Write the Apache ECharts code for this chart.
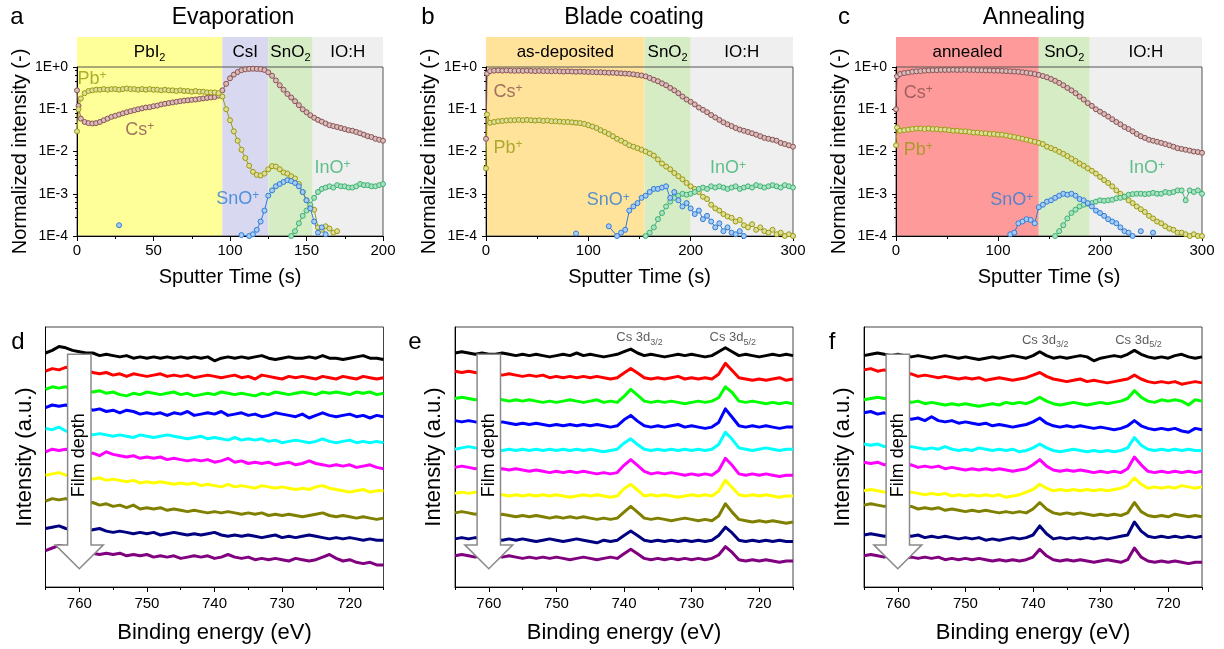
<!DOCTYPE html>
<html><head><meta charset="utf-8">
<script src="https://cdn.jsdelivr.net/npm/echarts@6.0.0/dist/echarts.min.js"></script>
<style>html,body{margin:0;padding:0;background:#fff}#c{width:1224px;height:649px}</style>
</head><body><div id="c"></div>
<script>
// ================= DATA =================
// ---- ToF-SIMS depth profiles (a: evaporation) ----
const timeA = [0,1,2.5,5,7.5,10,12.5,15,17.5,20,22.5,25,27.5,30,32.5,35,37.5,40,42.5,45,47.5,50,52.5,55,57.5,60,62.5,65,67.5,70,72.5,75,77.5,80,82.5,85,87.5,90,92.5,95,97.5,100,102.5,105,107.5,110,112.5,115,117.5,120,122.5,125,127.5,130,132.5,135,137.5,140,142.5,145,147.5,150,152.5,155,157.5,160,162.5,165,167.5,170,172.5,175,177.5,180,182.5,185,187.5,190,192.5,195,197.5,200];
const pbA = [0.03,0.1,0.18,0.24,0.27,0.28,0.29,0.29,0.30,0.29,0.30,0.30,0.29,0.30,0.31,0.30,0.30,0.29,0.30,0.29,0.30,0.29,0.29,0.28,0.29,0.28,0.28,0.27,0.28,0.27,0.27,0.26,0.27,0.26,0.26,0.25,0.25,0.25,0.24,0.2,0.1,0.055,0.03,0.018,0.011,0.007,0.0046,0.0033,0.0028,0.0027,0.003,0.0038,0.0045,0.0044,0.0038,0.0032,0.003,0.0026,0.0023,0.0017,0.0011,0.0007,0.0005,0.00042,0.00016,0.00014,0.00017,0.00015,0.00012,0.00013,null,null,null,null,null,null,null,null,null,null,null,null];
const csA = [0.28,0.12,0.06,0.05,0.047,0.046,0.047,0.05,0.055,0.06,0.066,0.07,0.075,0.08,0.085,0.09,0.095,0.1,0.105,0.11,0.112,0.118,0.122,0.13,0.135,0.14,0.145,0.15,0.155,0.16,0.163,0.167,0.17,0.175,0.18,0.185,0.19,0.195,0.21,0.28,0.4,0.54,0.66,0.76,0.84,0.88,0.9,0.91,0.9,0.89,0.85,0.75,0.62,0.48,0.37,0.29,0.23,0.19,0.155,0.125,0.1,0.085,0.072,0.063,0.056,0.051,0.046,0.042,0.04,0.038,0.036,0.034,0.032,0.031,0.029,0.027,0.025,0.023,0.022,0.02,0.019,0.018];
const snoTimeA = [27.5,70,107.5,112.5,115,117.5,120,122.5,125,127.5,130,132.5,135,137.5,140,142.5,145,147.5,150,152.5,155,157.5,160,162.5];
const snoA = [0.00018,null,0.000105,0.0001,0.00011,0.00014,0.00022,0.0004,0.0009,0.0012,0.0015,0.0017,0.0019,0.0021,0.002,0.0018,0.0015,0.0011,0.0007,0.00045,0.00022,0.00012,0.00016,0.00011];
const inoTimeA = [140,142.5,145,147.5,150,152.5,155,157.5,160,162.5,165,167.5,170,172.5,175,177.5,180,182.5,185,187.5,190,192.5,195,197.5,200];
const inoA = [0.0001,0.00013,0.0002,0.0003,0.0004,0.00055,0.0008,0.0011,0.0013,0.0014,0.0015,0.0014,0.0016,0.0015,0.0015,0.0014,0.0014,0.0015,0.0017,0.0016,0.0016,0.0015,0.0015,0.0016,0.0017];

// ---- (b: blade coating) and (c: annealing) share the time grid ----
const timeBC = [0,1,4,8,12,16,20,24,28,32,36,40,44,48,52,56,60,64,68,72,76,80,84,88,92,96,100,104,108,112,116,120,124,128,132,136,140,144,148,152,156,160,164,168,172,176,180,184,188,192,196,200,204,208,212,216,220,224,228,232,236,240,244,248,252,256,260,264,268,272,276,280,284,288,292,296,300];
const csB = [0.02,0.7,0.8,0.82,0.83,0.82,0.83,0.82,0.81,0.82,0.81,0.82,0.81,0.8,0.81,0.8,0.8,0.79,0.8,0.79,0.78,0.79,0.78,0.77,0.78,0.77,0.76,0.76,0.75,0.75,0.74,0.73,0.73,0.72,0.71,0.7,0.69,0.67,0.65,0.63,0.6,0.55,0.5,0.46,0.41,0.37,0.32,0.28,0.24,0.2,0.17,0.15,0.13,0.11,0.097,0.085,0.073,0.064,0.056,0.049,0.044,0.04,0.036,0.033,0.031,0.029,0.027,0.025,0.023,0.021,0.02,0.019,0.018,0.016,0.015,0.014,0.013];
const pbB = [0.004,0.075,0.048,0.05,0.052,0.053,0.054,0.055,0.055,0.056,0.055,0.056,0.055,0.054,0.055,0.053,0.054,0.052,0.052,0.051,0.05,0.05,0.049,0.048,0.047,0.045,0.042,0.039,0.036,0.032,0.029,0.026,0.023,0.02,0.018,0.016,0.014,0.013,0.012,0.011,0.01,0.009,0.008,0.0065,0.0052,0.0044,0.0038,0.0031,0.0026,0.0022,0.0018,0.0015,0.0013,0.0011,0.00085,0.00075,0.00055,0.00045,0.0004,0.00033,0.00029,0.00027,0.00022,0.00024,0.00018,0.00016,0.00019,0.00014,0.00016,0.00013,0.00012,0.00014,0.00011,0.00012,0.0001,0.00011,0.0001];
const snoTimeB = [88,100,120,128,132,136,140,144,148,152,156,160,164,168,172,176,180,184,188,192,196,200,204,208,212,216,220,224,228,232,236,240,244,248,252];
const snoB = [0.000115,null,0.00017,0.0001,0.00012,0.00014,0.0004,0.0005,0.0006,0.0008,0.0009,0.0011,0.0013,0.0013,0.0014,0.0015,0.0008,0.0011,0.0007,0.0005,0.0006,0.00045,0.00033,0.0004,0.00025,0.0003,0.00022,0.00016,0.0002,0.00013,0.00016,0.00012,0.00011,0.00013,0.0001];
const inoTimeBC = [156,160,164,168,172,176,180,184,188,192,196,200,204,208,212,216,220,224,228,232,236,240,244,248,252,256,260,264,268,272,276,280,284,288,292,296,300];
const inoB = [0.0001,0.00012,0.00016,0.00025,0.00035,0.0005,0.00065,0.0008,0.0009,0.001,0.00095,0.001,0.0011,0.0013,0.0014,0.0013,0.0015,0.0014,0.0015,0.0014,0.0013,0.0014,0.0015,0.0013,0.0014,0.0015,0.0014,0.0016,0.0015,0.0014,0.0015,0.0016,0.0015,0.0014,0.0016,0.0015,0.0014];
const csC = [0.1,0.6,0.68,0.72,0.74,0.77,0.79,0.8,0.82,0.83,0.84,0.84,0.85,0.85,0.85,0.86,0.85,0.85,0.86,0.85,0.85,0.84,0.84,0.83,0.83,0.82,0.82,0.81,0.8,0.79,0.78,0.77,0.75,0.73,0.71,0.68,0.65,0.61,0.57,0.52,0.47,0.42,0.37,0.32,0.28,0.24,0.2,0.17,0.14,0.12,0.1,0.088,0.077,0.067,0.058,0.05,0.044,0.038,0.034,0.03,0.026,0.023,0.021,0.019,0.018,0.017,0.016,0.015,0.014,0.013,0.012,0.0115,0.011,0.0105,0.01,0.0097,0.0093];
const pbC = [0.014,0.037,0.031,0.032,0.033,0.034,0.035,0.035,0.034,0.035,0.034,0.034,0.033,0.033,0.032,0.031,0.031,0.03,0.03,0.029,0.028,0.028,0.027,0.027,0.026,0.026,0.025,0.025,0.024,0.023,0.022,0.021,0.02,0.019,0.018,0.017,0.016,0.015,0.013,0.012,0.011,0.0098,0.0088,0.0078,0.0068,0.006,0.0052,0.0046,0.004,0.0035,0.003,0.0025,0.0021,0.0018,0.0015,0.0012,0.001,0.00085,0.0007,0.0006,0.0005,0.00043,0.00037,0.0003,0.00026,0.00022,0.0002,0.00017,0.00015,0.00014,0.00012,0.00012,0.00011,0.0001,0.00011,0.0001,0.0001];
const snoTimeC = [112,116,120,124,128,132,136,140,144,148,152,156,160,164,168,172,176,180,184,188,192,196,200,204,208,212,216,220,224,228,232,236,240,244,248,252];
const snoC = [0.00011,0.00012,0.0002,0.00022,0.00025,0.00024,0.0002,0.00048,0.00055,0.00065,0.0007,0.0008,0.0009,0.001,0.00095,0.001,0.0009,0.00075,0.0007,0.0006,0.0005,0.0004,0.00035,0.0003,0.00025,0.00022,0.0002,0.00016,0.00013,0.00012,0.0001,null,0.00013,null,null,0.00012];
const inoC = [0.0001,0.00013,0.00018,0.00026,0.00035,0.00042,0.0005,0.00055,0.00058,0.0006,0.00065,0.0007,0.00068,0.0007,0.00072,0.00078,0.0008,0.00085,0.00095,0.00098,0.001,0.001,0.00098,0.001,0.00105,0.001,0.001,0.0011,0.00105,0.0011,0.0012,0.0012,0.0007,0.0012,0.0011,0.0012,0.001];

// layer bands: [start s, end s, label, subscript]
const bandsA = [[0,95,'PbI','2'],[95,125,'CsI',''],[125,154,'SnO','2'],[154,200,'IO:H','']];
const bandsB = [[0,155,'as-deposited',''],[155,200,'SnO','2'],[200,300,'IO:H','']];
const bandsC = [[0,140,'annealed',''],[140,190,'SnO','2'],[190,300,'IO:H','']];
// ion labels: [ion, time, intensity]
const ionLabelsA = [['Pb',9.8,0.52],['Cs',41,0.032],['SnO',105,0.00076],['InO',167,0.0041]];
const ionLabelsB = [['Cs',21.5,0.26],['Pb',21.5,0.012],['SnO',119.5,0.0007],['InO',236.5,0.004]];
const ionLabelsC = [['Cs',21.9,0.24],['Pb',21.9,0.011],['SnO',113.5,0.0007],['InO',246,0.004]];
const xMaxTop = [200,300,300];
const xStepTop = [50,100,100];
const panelTitles = ['Evaporation','Blade coating','Annealing'];
const panelLetters = ['a','b','c','d','e','f'];

// ---- XPS Cs 3d spectra (stacked, top = surface) ----
const energy = [765,764,763,762,761,760,759,758,757,756,755,754,753,752,751,750,749,748,747,746,745,744,743,742,741,740,739,738,737,736,735,734,733,732,731,730,729,728,727,726,725,724,723,722,721,720,719,718,717,716,715];
const xpsD = [
[90,91,92.5,92,91,90.5,90,90,89,89.5,89,88.5,89,88,88.5,88,88.5,88,88.5,88,88.5,88,88.5,88,88.5,87,88,88.5,88,88.5,88,88.5,89,88,87.5,88,88.5,88,88,88.5,88,89,88,88,87.5,88,88.5,89,88,88,87.5],
[83,84,83.5,84.5,84,83,83.5,82.5,82,82.5,81.5,82,81,82,81.5,81,81.5,82,81,81.5,81,81.5,80.5,81,81.5,81,80.5,81,81.5,80.5,81,80,81.5,81,80.5,80,81,80.5,81,80.5,80,81,80.5,80,81,80.5,80,81,80.5,80,80.5],
[76,77,76.5,77,76,76.5,75.5,75,75.5,74.5,75,74,73.5,74.5,74,75,74.5,74,74.5,75,74,74.5,73.5,74,74.5,74,75,74.5,74,74.5,74,73.5,74.5,74,75,74.5,74,74.5,75,74.5,74,75,74.5,75,74.5,74,75,74.5,75,74,74.5],
[69,70,69.5,70,69,68.5,69,68,68.5,67.5,68,67,68,67.5,66.5,67,66.5,67,66,67,66.5,67.5,66,66.5,67,66.5,67.5,66,66.5,67,66,66.5,65.5,66,67,66.5,66,65.5,66.5,65,66,67,66,65.5,66,66.5,65.5,66,65,66,65.5],
[61,60.5,61.5,60,59.5,59,59.5,58.5,59,58.5,58,58.5,58,57.5,58.5,58,57.5,58,58.5,58,57.5,57,57.5,58,57,57.5,57,56.5,57.5,56.5,57,56.5,57,56,56.5,55.5,56,56.5,56,55.5,56,57,56,55.5,56,56.5,55.5,56,55.5,56,55.5],
[52,53,52.5,53,52,51.5,51,51.5,50.5,52,51,50.5,50,50.5,49.5,50,49.5,50,49,49.5,49,48.5,49,48.5,49,48,48.5,49.5,48,48.5,47.5,48,47.5,48,47,47.5,48,47,47.5,48.5,47.5,47,46.5,47,46.5,47,46,46.5,47,46,45.5],
[43,43.5,44,43,42.5,42,42.5,41.5,42,41,41.5,41,40.5,41,40,40.5,40,40.5,40,39.5,40,39.5,40,39,39.5,39,38.5,39.5,38.5,39,38.5,38,39,38.5,38,38.5,38,37.5,38,37.5,38.5,39,38,37.5,37,36.5,37,37.5,36.5,37,37],
[33,34,33.5,34,33,32.5,32,32.5,31.5,32,31,31.5,30.5,31.5,30,30.5,30,30.5,29.5,30,29.5,29,29.5,29,28.5,29,28.5,29,28.5,28,28.5,28,28.5,27.5,28,27.5,28,27.5,27,27.5,28,28.5,27.5,27,27.5,27,26.5,27,26.5,26,26.5],
[22.5,23,23.5,22.5,22,22.5,21.5,22,22.5,21.5,21,21.5,21,20.5,21,20.5,21,20,20.5,21,20.5,20,20.5,20,20.5,21,20,19.5,20,19.5,20,19.5,19,19.5,20,19,19.5,19,19.5,20,19.5,19,18.5,19,18.5,19,18.5,18,18.5,18,18],
[14,15,16,15.5,15,14,13.5,13,12.5,13,12.5,13,12,12.5,12,12.5,11.5,12,11.5,12,11,11.5,12,11.5,12,11,11.5,12.5,11.5,11,11.5,10.5,11,10.5,11,10.5,10,11,10.5,10,10.5,11.5,12.5,11,10,10.5,9.5,9,9.5,8.5,8.5]
];
const xpsE = [
[90,90.5,90,89.5,90, 89.5,89.5,90,89.5,89, 89.5,89,89.5,89,88.5, 89,89.5,89,90,89, 89.5,89,88.5,89,89.5, 90.5,91.5,90,89,89.5, 89,88.5,89,89.5,89, 89.5,89,88.5,89,90.5, 92,90.5,89,89.5,89, 88.5,89,89.5,89,89.5, 89],
[83,82.5,83,82.5,82, 82.5,82,81.5,82,81.5, 81,81.5,81,81.5,80.5, 81,80.5,81,80.5,81, 80.5,81,80.5,80,80.5, 82.3,84,82.3,80.5,80, 80.5,80,80.5,81,80, 80.5,80,80.5,80,81.8, 86,83.3,80.5,80,79.5, 80,79.5,80,80.5,79.5, 80],
[72.5,73,72.5,72,72.5, 72,72.5,72,71.5,72, 71.5,72,71.5,71,71.5, 71,71.5,72,71.5,71, 71.5,72,71,71.5,71, 73.3,76,73.8,71.5,71, 71.5,71,71.5,71,70.5, 71,71.5,71,71.5,72.8, 77,74.8,71.5,71,71.5, 71,70.5,71,70.5,71, 70.5],
[64,63.5,64,63.5,63, 63.5,63,63.5,63,62.5, 63,62.5,63,62.5,62, 62.5,62,62.5,62,62.5, 62,62.5,62,61.5,62, 64.3,66,63.8,62,61.5, 62,61.5,62,62.5,61.5, 62,61.5,61,61.5,63.3, 68.5,65.3,62,61.5,62, 61.5,62,61.5,61,61.5, 61.5],
[53,53.5,54,53.5,53, 53.5,53,52.5,53,52.5, 53,52.5,53,52.5,53, 52.5,53,52.5,53,52.5, 53,52.5,52,52.5,53, 55.3,57,54.8,53,52.5, 53,52.5,53,52.5,53, 52.5,53,52.5,53,54.8, 59.5,56.8,53.5,53,52.5, 53,53.5,53,52.5,53, 53],
[46,46.5,46,45.5,46, 45.5,45,45.5,45,45.5, 45,44.5,45,44.5,44, 44.5,44,44.5,44,44.5, 44,43.5,44,43.5,44, 46.8,49,46.8,44.5,43.5, 44,43.5,44,43.5,43, 43.5,43,43.5,43,44.8, 49.5,46.8,43.5,43,43.5, 43,43.5,43,42.5,43, 43],
[36,36.5,36,36.5,36, 35.5,36,35.5,35,35.5, 35,35.5,35,35.5,35, 35.5,35,34.5,35,35.5, 35,35.5,35,34.5,35, 37.8,39.5,37.3,35,35.5, 35,35.5,35,34.5,35, 35.5,35,35.5,35,36.8, 41,38.3,35.5,35,35.5, 35,35.5,35,34.5,35, 35],
[28.5,29,28.5,28,28.5, 28,27.5,28,27.5,27, 27.5,27,27.5,27,26.5, 27,26.5,27,26.5,27, 26.5,26,26.5,26,26.5, 28.8,31,28.8,26.5,26, 26.5,26,25.5,26,26.5, 26,25.5,26,25.5,27.3, 32,28.8,26,25.5,25, 25.5,25,25.5,25,24.5, 25],
[18.5,19,18.5,19,18.5, 18,18.5,18,18.5,18, 18.5,18,17.5,18,18.5, 18,17.5,18,18.5,18, 17.5,17,18,17.5,18, 19.8,21.5,19.8,18,17.5, 18,17.5,18,17.5,18, 17.5,18,17.5,18,19.8, 23,20.8,18,17.5,18, 17.5,18,17.5,18,17.5, 17.5],
[12,12.5,12,11.5,12, 12.5,12,11.5,12,11.5, 11,11.5,11,11.5,11, 11.5,11,10.5,11,11.5, 11,10.5,11,11.5,11, 12.8,14.5,12.8,11,10.5, 11,10.5,11,10.5,11, 10.5,11,10.5,11,12.3, 15.5,13.3,10.5,10,10.5, 10,10.5,10,9.5,10, 10]
];
const xpsF = [
[89,89.5,90,89.5,89,89.5,89,88.5,89,88.5,88,88.5,89,88.5,88,88.5,88,87.5,88,88.5,88,88.5,89,88.5,88,89,90.5,89,88,88.5,88,88.5,89,88.5,87,88,88.5,89,88.5,89.5,91,89.5,88.5,88,88.5,88,89,89.5,88.5,88,88.5],
[83.5,84,83,83.5,82.5,82,81.5,82,81,81.5,81,80.5,81,80.5,80,80.5,80,80.5,79.5,80,80.5,80,79.5,80,80.5,81.5,82.5,81,80,79.5,79,79.5,80,79,79.5,79,78.5,79,79.5,80,81.5,80,79,78.5,79,78.5,79,78,78.5,79,78.5],
[72,72.5,73,72.5,72,71.5,72,71,71.5,70.5,71,70.5,70,70.5,70,70.5,70,69.5,70,70.5,70,71,70.5,71,70.5,71.5,73,71.5,70.5,70,70.5,71,70.5,70,70.5,71,70.5,71,71.5,72.5,75.5,73,71.5,71,72,71.5,72,71.5,70,72,71.5],
[67,67.5,66.5,67,66,65.5,65,64.5,65,64,65.5,64,63.5,64,63,63.5,63,62.5,63,62,62.5,62,61.5,62,62.5,63.5,65,63,62,61.5,62,61.5,62,61.5,61,61.5,61,60.5,61,62,64,62,61,60.5,61,60.5,61,60,59.5,61,60.5],
[55,54.5,55,54,54.5,54,53.5,54,53.5,53,53.5,53,54,53,52.5,53,52.5,53.5,53,52.5,53,52.5,53,52,52.5,53.5,55,53.5,52.5,52,52.5,53,52.5,52,52.5,52,52.5,52,52.5,53.5,57.5,54.5,53,52.5,53,52.5,53,52.5,53,52.5,52.5],
[48,47.5,48,47,47.5,47,46.5,47,46,46.5,46,46.5,45.5,46,45.5,45,45.5,45,45.5,45,45.5,45,44.5,45,45.5,47,49,46.5,45,44.5,45,44.5,45,44.5,44,44.5,44,44.5,44,45.5,50,47,44.5,44,44.5,44,44.5,44,44.5,44,44.5],
[37,37.5,37,36.5,37,36.5,36,36.5,36,35.5,36,35.5,36,35,35.5,35,35.5,35,35.5,35,35.5,34.5,35,35.5,36.5,37.5,39.5,38,37,37.5,37,37.5,37,37.5,37,37.5,37,37.5,38,39,42,39.5,38,38.5,38,38.5,38,39,38.5,38,38.5],
[31.5,32,31.5,31,31.5,31,30.5,31,30,30.5,30,30.5,29.5,30,29.5,29,29.5,29,29.5,29,28.5,29,28.5,29,28.5,30,32.5,30,28.5,28,28.5,28,28.5,28,27.5,28,27.5,28,27.5,28.5,32.5,29,27.5,27,27.5,27,28,27.5,27,27.5,27],
[20,20.5,20,19.5,20,19.5,20,19.5,20,19,19.5,19,19.5,19,18.5,19,18.5,19,18,18.5,18,18.5,19,18.5,19,20,23.5,20.5,18.5,19,18.5,19,18.5,19,18.5,19,18.5,19,19.5,20,25,21.5,19.5,19,19.5,19,19.5,19,19.5,19,19.5],
[12,12.5,12,11.5,12,11.5,11,11.5,11,11.5,11,11.5,10.5,11,10.5,11,10.5,11,10.5,10,10.5,10,10.5,10,10.5,11.5,14.5,12,10.5,10,10.5,10,10.5,10,9.5,10,10.5,10,9.5,10.5,15,11.5,10,9.5,10,9.5,10,9.5,9,9.5,9.5]
];
// peak labels: [subscript, energy, intensity]
const peakLabelsE = [['3/2',737.7,95.8],['5/2',723.9,95.8]];
const peakLabelsF = [['3/2',738.2,95],['5/2',724.4,95]];
// film-depth arrow (in data units of the XPS panels)
const arrowEnergy = 760, arrowTop = 89.5, arrowHeadBase = 16.2, arrowTip = 7.0, arrowTextAt = 50.7;

// ================= STYLE =================
const FF = '"Liberation Sans", Arial, Helvetica, sans-serif';
const ionColor = {Pb:'#999a10', Cs:'#8a5252', SnO:'#2e7dd6', InO:'#3cb371'};
const ionFill = {Pb:'#dede9a', Cs:'#d9bcbc', SnO:'#a9cbf2', InO:'#abe0c2'};
const bandColors = [['#ffff99','#d8d8f0','#d6ecc4','#efefef'],['#ffe39b','#d6ecc4','#efefef'],['#ff9a9a','#d6ecc4','#efefef']];
const xpsColors = ['#000000','#ff0000','#00ff00','#0000ff','#00ffff','#ff00ff','#ffff00','#808000','#000080','#800080'];
const topLeft = [77,486,896], topW = [306,307,306];
const botLeft = [45.5,455,864], botW = 338;

const bands = [bandsA,bandsB,bandsC];
const ionLabels = [ionLabelsA,ionLabelsB,ionLabelsC];
const xpsAll = [xpsD,xpsE,xpsF];
const peakLabels = [null,peakLabelsE,peakLabelsF];

function pairs(ts, vs){ return ts.map((t,i)=>[t, vs[i]==null ? '-' : vs[i]]); }
function logFmt(v){ const e = Math.round(Math.log10(v)); return '1E' + (e>=0?'+':'') + e; }

const grid = [], xAxis = [], yAxis = [], series = [];
for (let p=0;p<3;p++) grid.push({left:topLeft[p], top:67, width:topW[p], height:169, show:true, borderColor:'#555', borderWidth:1, backgroundColor:'transparent', z:1});
for (let p=0;p<3;p++) grid.push({left:topLeft[p], top:37, width:topW[p], height:199, show:false});
for (let p=0;p<3;p++) grid.push({left:botLeft[p], top:327, width:botW, height:260, show:true, borderColor:'#444', borderWidth:1, backgroundColor:'transparent', z:1});

const axisTxt = {color:'#000', fontFamily:FF};
for (let p=0;p<3;p++){
  xAxis.push({gridIndex:p, type:'value', min:0, max:xMaxTop[p], interval:xStepTop[p], z:2,
    axisLine:{show:true, onZero:false, lineStyle:{color:'#000', width:1}},
    axisTick:{show:true, length:5, lineStyle:{color:'#000'}},
    minorTick:{show:true, splitNumber:2, length:3, lineStyle:{color:'#000'}},
    splitLine:{show:false}, minorSplitLine:{show:false},
    axisLabel:Object.assign({fontSize:15, margin:7, showMinLabel:true, showMaxLabel:true}, axisTxt),
    name:'Sputter Time (s)', nameLocation:'middle', nameGap:31, nameTextStyle:Object.assign({fontSize:20}, axisTxt)});
  yAxis.push({gridIndex:p, type:'log', logBase:10, min:0.0001, max:1, splitNumber:4, z:2,
    axisLine:{show:true, onZero:false, lineStyle:{color:'#000', width:1}},
    axisTick:{show:true, length:4, lineStyle:{color:'#000'}},
    minorTick:{show:true, splitNumber:5, length:2, lineStyle:{color:'#000'}},
    splitLine:{show:false}, minorSplitLine:{show:false},
    axisLabel:Object.assign({fontSize:14, margin:9, formatter:logFmt, showMinLabel:true, showMaxLabel:true}, axisTxt),
    name:'Normalized intensity (-)', nameLocation:'middle', nameGap:47, nameTextStyle:Object.assign({fontSize:20}, axisTxt)});
}
for (let p=0;p<3;p++){
  xAxis.push({gridIndex:3+p, type:'value', min:0, max:xMaxTop[p], show:false});
  yAxis.push({gridIndex:3+p, type:'value', min:0, max:1, show:false});
}
for (let p=0;p<3;p++){
  xAxis.push({gridIndex:6+p, type:'value', min:715, max:765, interval:5, inverse:true, z:2,
    axisLine:{show:true, onZero:false, lineStyle:{color:'#000'}},
    axisTick:{show:true, length:3, lineStyle:{color:'#000'}},
    splitLine:{show:false},
    axisLabel:Object.assign({fontSize:15, margin:9, formatter:v=> (Math.round(v)%10===0 ? String(Math.round(v)) : '')}, axisTxt),
    name:'Binding energy (eV)', nameLocation:'middle', nameGap:35, nameTextStyle:Object.assign({fontSize:22}, axisTxt)});
  yAxis.push({gridIndex:6+p, type:'value', min:0, max:100, z:2,
    axisLine:{show:true, onZero:false, lineStyle:{color:'#000'}},
    axisTick:{show:false}, axisLabel:{show:false}, splitLine:{show:false},
    name:'Intensity (a.u.)', nameLocation:'middle', nameGap:10, nameTextStyle:Object.assign({fontSize:22}, axisTxt)});
}
for (let p=0;p<3;p++){
  xAxis.push({gridIndex:6+p, type:'value', min:715, max:765, interval:5, inverse:true, position:'bottom', z:2,
    axisLine:{show:false}, axisLabel:{show:false}, splitLine:{show:false},
    axisTick:{show:true, length:5, customValues:[720,730,740,750,760], lineStyle:{color:'#000'}}});
}

// band shading
for (let p=0;p<3;p++){
  const bs = bands[p];
  series.push({type:'custom', xAxisIndex:3+p, yAxisIndex:3+p, z:0, silent:true,
    data: bs.map(b=>[b[0], b[1]]),
    renderItem:function(params, api){
      const b = bs[params.dataIndex];
      const tl = api.coord([b[0], 1]);
      const br = api.coord([b[1], 0]);
      const txt = b[3] ? '{m|'+b[2]+'}{s|'+b[3]+'}' : '{m|'+b[2]+'}';
      return {type:'group', children:[
        {type:'rect', shape:{x:tl[0], y:tl[1], width:br[0]-tl[0], height:br[1]-tl[1]}, style:{fill:bandColors[p][params.dataIndex]}},
        {type:'text', x:(tl[0]+br[0])/2, y:tl[1]+15, style:{text:txt, align:'center', verticalAlign:'middle',
          rich:{m:{fontSize:17, fontFamily:FF, fill:'#000', color:'#000'},
                s:{fontSize:11, fontFamily:FF, fill:'#000', color:'#000', verticalAlign:'bottom', padding:[12,0,0,0]}}}}
      ]};
    }});
}

// SIMS series
const simsSets = [
  [['Cs',timeA,csA],['Pb',timeA,pbA],['InO',inoTimeA,inoA],['SnO',snoTimeA,snoA]],
  [['Cs',timeBC,csB],['Pb',timeBC,pbB],['InO',inoTimeBC,inoB],['SnO',snoTimeB,snoB]],
  [['Cs',timeBC,csC],['Pb',timeBC,pbC],['InO',inoTimeBC,inoC],['SnO',snoTimeC,snoC]]
];
for (let p=0;p<3;p++){
  simsSets[p].forEach(s=>{
    const ion = s[0];
    series.push({type:'line', xAxisIndex:p, yAxisIndex:p, data:pairs(s[1], s[2]), z:3, silent:true,
      symbol:'circle', symbolSize:5, showSymbol:true, showAllSymbol:true, connectNulls:false,
      lineStyle:{width:1, color:ionColor[ion]},
      itemStyle:{color:ionFill[ion], borderColor:ionColor[ion], borderWidth:1}});
  });
  ionLabels[p].forEach(l=>{
    const c = ionColor[l[0]];
    series.push({type:'scatter', xAxisIndex:p, yAxisIndex:p, data:[[l[1], l[2]]], z:4, silent:true,
      symbolSize:1, itemStyle:{color:'rgba(0,0,0,0)'},
      label:{show:true, position:'inside', formatter:'{m|'+l[0]+'}{s|+}',
        rich:{m:{fontSize:18, fontFamily:FF, color:c}, s:{fontSize:12, fontFamily:FF, color:c, verticalAlign:'top'}}}});
  });
}

// XPS series
for (let p=0;p<3;p++){
  xpsAll[p].forEach((vals, k)=>{
    series.push({type:'line', xAxisIndex:6+p, yAxisIndex:6+p, data:energy.map((e,i)=>[e, vals[i]]), z:3, silent:true,
      symbol:'none', lineStyle:{width:3, color:xpsColors[k], join:'round'}});
  });
  if (peakLabels[p]){
    peakLabels[p].forEach(l=>{
      series.push({type:'scatter', xAxisIndex:6+p, yAxisIndex:6+p, data:[[l[1], l[2]]], z:4, silent:true,
        symbolSize:1, itemStyle:{color:'rgba(0,0,0,0)'},
        label:{show:true, position:'inside', formatter:'{m|Cs 3d}{s|'+l[0]+'}',
          rich:{m:{fontSize:13, fontFamily:FF, color:'#333'}, s:{fontSize:9, fontFamily:FF, color:'#333', verticalAlign:'bottom', padding:[9,0,0,0]}}}});
    });
  }
}

// titles & letters
const graphic = [];
const titleX = [233,634,1034];
panelTitles.forEach((t,i)=>graphic.push({type:'text', x:titleX[i], y:18, z:20, style:{text:t, fontSize:23, fontFamily:FF, fill:'#000', align:'center', verticalAlign:'middle'}}));
const letterPos = [[17,17],[428,17],[844,17],[18,342],[415,342],[832,342]];
panelLetters.forEach((t,i)=>graphic.push({type:'text', x:letterPos[i][0], y:letterPos[i][1], z:20, style:{text:t, fontSize:24, fontFamily:FF, fill:'#000', align:'center', verticalAlign:'middle'}}));

const chart = echarts.init(document.getElementById('c'));
chart.setOption({animation:false, backgroundColor:'#fff', grid, xAxis, yAxis, series, graphic});

// film depth arrows
const arrows = [];
for (let p=0;p<3;p++){
  const f = {gridIndex:6+p};
  const top = chart.convertToPixel(f, [arrowEnergy, arrowTop]);
  const hb = chart.convertToPixel(f, [arrowEnergy, arrowHeadBase]);
  const tip = chart.convertToPixel(f, [arrowEnergy, arrowTip]);
  const mid = chart.convertToPixel(f, [arrowEnergy, arrowTextAt]);
  const x = top[0], sw = 11.7, hw = 24;
  arrows.push({type:'polygon', z:50, shape:{points:[[x-sw,top[1]],[x+sw,top[1]],[x+sw,hb[1]],[x+hw,hb[1]],[x,tip[1]],[x-hw,hb[1]],[x-sw,hb[1]]]},
    style:{fill:'#fff', stroke:'#8a8a8a', lineWidth:1.5}});
  arrows.push({type:'text', z:51, x:x, y:mid[1], rotation:Math.PI/2,
    style:{text:'Film depth', fontSize:18, fontFamily:FF, fill:'#000', align:'center', verticalAlign:'middle'}});
}
chart.setOption({graphic: graphic.concat(arrows)});
</script>
</body></html>
